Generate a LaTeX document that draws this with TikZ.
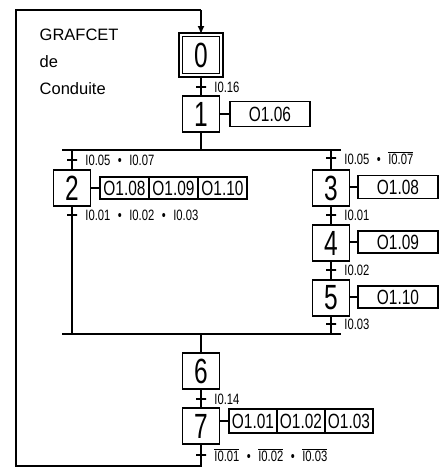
\documentclass[tikz,border=0pt]{standalone}
\usepackage{fontspec}
\setmainfont{Liberation Sans}
\newfontfamily\narrowfont[FakeStretch=0.75]{Liberation Sans}
\newfontfamily\digitfont[FakeStretch=0.7]{Liberation Sans}
\usetikzlibrary{arrows.meta}
\newcommand\nonsig[1]{$\overline{\hbox{#1}}$}

\begin{document}
\begin{tikzpicture}[x=1pt,y=-1pt]
\tikzstyle{every path}=[line width=1.4pt]
\tikzstyle{etape}=[rectangle,draw,inner sep=0pt,minimum width=37pt,minimum height=36pt,
  font=\digitfont\fontsize{35}{35}\selectfont]
\tikzstyle{etapeinit}=[etape,double,double distance=2.2pt,minimum width=40.4pt,minimum height=40.4pt]
\tikzstyle{action}=[rectangle,draw,inner sep=0pt,minimum width=80pt,minimum height=25pt,
  font=\narrowfont\fontsize{20.6}{22}\selectfont]
\tikzstyle{lbl}=[inner sep=0pt,xshift=7pt,font=\narrowfont\fontsize{15}{16}\selectfont]
\tikzstyle{trans}=[rectangle,draw,inner sep=0pt,minimum width=10pt,minimum height=0pt]

\useasboundingbox (0,0) rectangle (439,469);

% titre
\node (titre) [anchor=north west,inner sep=0pt,align=left,font=\fontsize{16.5}{27}\selectfont]
  at (39,28) {GRAFCET\\de\\Conduite};

% etapes
\node (s0) [etapeinit] at (201,55) {0};
\node (s1) [etape] at (201,114) {1};
\node (s2) [etape] at (72,188) {2};
\node (s3) [etape] at (331,188) {3};
\node (s4) [etape] at (331,243) {4};
\node (s5) [etape] at (331,298) {5};
\node (s6) [etape] at (201,371) {6};
\node (s7) [etape] at (201,426) {7};

% actions
\node (a1) [action] at (270,114) {O1.06};
\node (a21) [action,minimum width=49pt,minimum height=22pt] at (124.5,188) {O1.08};
\node (a22) [action,minimum width=49pt,minimum height=22pt] at (173.5,188) {O1.09};
\node (a23) [action,minimum width=49pt,minimum height=22pt] at (222.5,188) {O1.10};
\node (a3) [action,minimum height=23pt] at (398,187) {O1.08};
\node (a4) [action,minimum height=22pt] at (398,242) {O1.09};
\node (a5) [action,minimum height=22pt] at (398,297) {O1.10};
\node (a71) [action,minimum width=48pt,minimum height=24pt] at (253,421) {O1.01};
\node (a72) [action,minimum width=48pt,minimum height=24pt] at (301,421) {O1.02};
\node (a73) [action,minimum width=48pt,minimum height=24pt] at (349,421) {O1.03};

% transitions
\node (t01) [trans,label={[lbl]0:I0.16}] at (201,87) {};
\node (t2a) [trans,label={[lbl]0:I0.05\enspace\textbullet\enspace I0.07}] at (72,160) {};
\node (t3a) [trans,label={[lbl]0:I0.05\enspace\textbullet\enspace\nonsig{I0.07}}] at (331,158) {};
\node (t2b) [trans,label={[lbl]0:I0.01\enspace\textbullet\enspace I0.02\enspace\textbullet\enspace I0.03}] at (72,215) {};
\node (t34) [trans,label={[lbl]0:I0.01}] at (331,215) {};
\node (t45) [trans,label={[lbl]0:I0.02}] at (331,270) {};
\node (t56) [trans,label={[lbl]0:I0.03}] at (331,324) {};
\node (t67) [trans,label={[lbl]0:I0.14}] at (201,399) {};
\node (t70) [trans,label={[lbl]0:\nonsig{I0.01}\enspace\textbullet\enspace\nonsig{I0.02}\enspace\textbullet\enspace\nonsig{I0.03}}] at (201,455) {};

% divergence / convergence en OU
\coordinate (dl) at (62,150);
\coordinate (dr) at (341,150);
\coordinate (cl) at (62,334);
\coordinate (cr) at (341,334);
\coordinate (r1) at (201,466);
\coordinate (r2) at (16,466);
\coordinate (r3) at (16,10);
\coordinate (r4) at (201,10);

\draw (s0) -- (s1);
\draw (s1) -- (s1 |- dl);
\draw (dl) -- (dr);
\draw (s2 |- dl) -- (s2);
\draw (s2) -- (s2 |- cl);
\draw (s3 |- dl) -- (s3);
\draw (s3) -- (s4);
\draw (s4) -- (s5);
\draw (s5) -- (s5 |- cl);
\draw (cl) -- (cr);
\draw (s6 |- cl) -- (s6);
\draw (s6) -- (s7);
\draw (s7) -- (r1) -- (r2) -- (r3) -- (r4);
\draw[-{Latex[length=8pt,width=7pt]}] (r4) -- (s0);

\draw (s1) -- (a1);
\draw (s2) -- (a21);
\draw (s3.east |- a3) -- (a3);
\draw (s4.east |- a4) -- (a4);
\draw (s5.east |- a5) -- (a5);
\draw (s7.east |- a71) -- (a71);
\end{tikzpicture}
\end{document}
